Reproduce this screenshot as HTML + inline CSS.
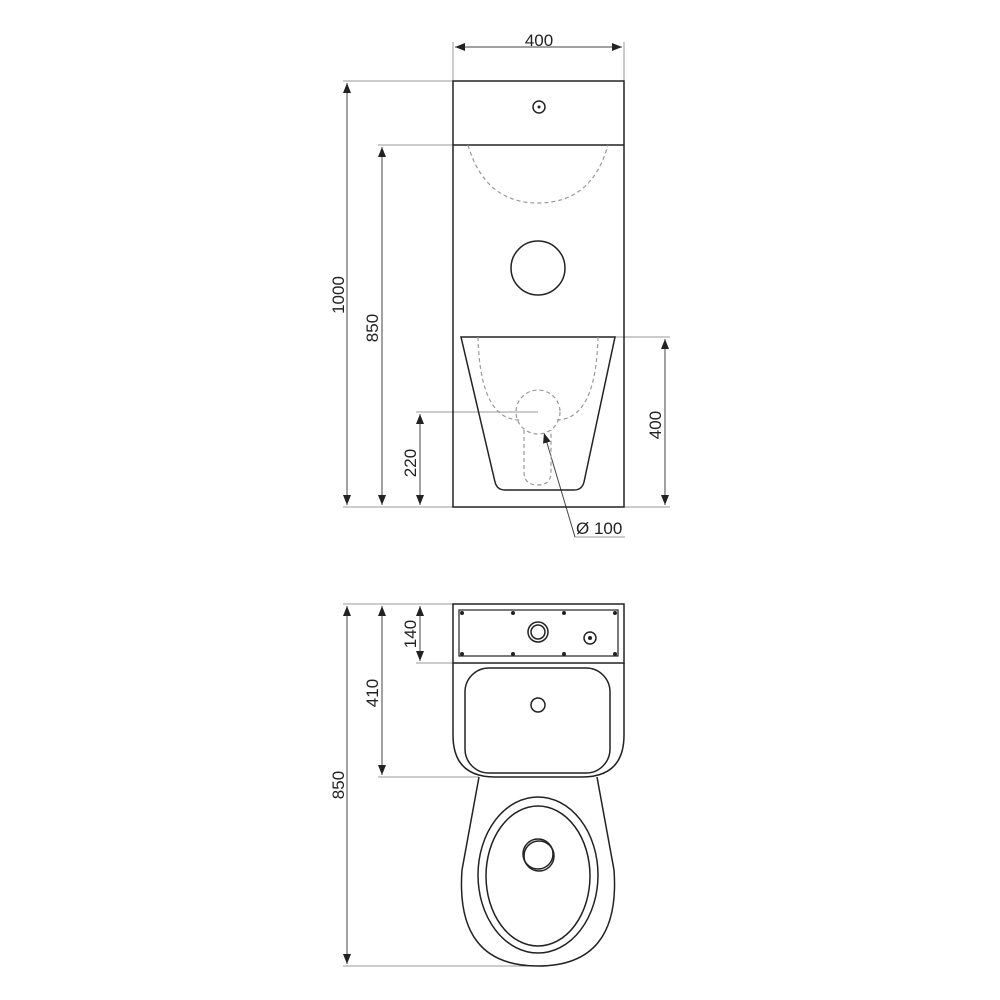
<!DOCTYPE html>
<html><head><style>body{margin:0;background:#fff}svg{display:block}text{font-family:"Liberation Sans",sans-serif;font-size:17px;fill:#222}</style></head><body>
<svg width="1000" height="1000" viewBox="0 0 1000 1000" xmlns="http://www.w3.org/2000/svg">
<defs><marker id="a" markerWidth="10" markerHeight="8" refX="10" refY="4" orient="auto-start-reverse" markerUnits="userSpaceOnUse"><path d="M0,0L10,4L0,8z" fill="#222"/></marker></defs>
<g stroke="#999" stroke-width="1" fill="none">
<line x1="453" y1="42" x2="453" y2="81"/><line x1="624" y1="42" x2="624" y2="81"/>
<line x1="343" y1="81" x2="453" y2="81"/><line x1="378" y1="145" x2="453" y2="145"/>
<line x1="343" y1="507" x2="453" y2="507"/><line x1="624" y1="507" x2="670" y2="507"/>
<line x1="615" y1="337" x2="670" y2="337"/><line x1="416" y1="412" x2="538" y2="412"/>
<line x1="575" y1="537" x2="625" y2="537"/>
<line x1="343" y1="604" x2="453" y2="604"/><line x1="416" y1="663" x2="453" y2="663"/>
<line x1="378" y1="777" x2="479" y2="777"/><line x1="343" y1="966" x2="538" y2="966"/>
</g>
<g stroke="#444" stroke-width="1" fill="none">
<line x1="455" y1="47" x2="622" y2="47" marker-start="url(#a)" marker-end="url(#a)"/>
<line x1="347" y1="83" x2="347" y2="505" marker-start="url(#a)" marker-end="url(#a)"/>
<line x1="382" y1="147" x2="382" y2="505" marker-start="url(#a)" marker-end="url(#a)"/>
<line x1="420" y1="414" x2="420" y2="505" marker-start="url(#a)" marker-end="url(#a)"/>
<line x1="665" y1="339" x2="665" y2="505" marker-start="url(#a)" marker-end="url(#a)"/>
<line x1="575" y1="537" x2="544" y2="433" marker-end="url(#a)"/>
<line x1="347" y1="606" x2="347" y2="964" marker-start="url(#a)" marker-end="url(#a)"/>
<line x1="382" y1="606" x2="382" y2="775" marker-start="url(#a)" marker-end="url(#a)"/>
<line x1="420" y1="606" x2="420" y2="661" marker-start="url(#a)" marker-end="url(#a)"/>
</g>
<text x="539" y="46" text-anchor="middle">400</text>
<text transform="translate(344,295) rotate(-90)" text-anchor="middle">1000</text>
<text transform="translate(378,328) rotate(-90)" text-anchor="middle">850</text>
<text transform="translate(416,463) rotate(-90)" text-anchor="middle">220</text>
<text transform="translate(661,425) rotate(-90)" text-anchor="middle">400</text>
<text x="576" y="534">Ø 100</text>
<text transform="translate(344,785) rotate(-90)" text-anchor="middle">850</text>
<text transform="translate(378,693) rotate(-90)" text-anchor="middle">410</text>
<text transform="translate(416,634) rotate(-90)" text-anchor="middle">140</text>
<g stroke="#222" stroke-width="1.5" fill="none">
<rect x="453" y="81" width="171" height="426"/>
<line x1="453" y1="145" x2="624" y2="145"/>
<circle cx="539" cy="107" r="6"/>
<circle cx="538" cy="268" r="27"/>
<path d="M461,337L615,337L584,482Q582,490 574,490L505,490Q497,490 495,482Z"/>
<rect x="453" y="604" width="171" height="59"/>
<rect x="459" y="610" width="159" height="46" stroke-width="1.2"/>
<circle cx="538" cy="632" r="10"/><circle cx="538" cy="632" r="7"/>
<circle cx="590" cy="638" r="6"/>
<path d="M453,663L453,735Q453,777 495,777L582,777Q624,777 624,735L624,663"/>
<rect x="465" y="668" width="145" height="105" rx="24"/>
<circle cx="538" cy="705" r="7"/>
<path d="M479,777L462,870Q455,966 538,966Q621,966 614,870L597,777"/>
<ellipse cx="538" cy="875" rx="60" ry="78"/>
<ellipse cx="538" cy="876" rx="52" ry="70"/>
<circle cx="538" cy="854" r="15"/><circle cx="539" cy="856" r="15"/>
</g>
<circle cx="539" cy="107" r="1.5" fill="#222"/>
<circle cx="590" cy="638" r="2" fill="#222"/>
<g fill="#222"><circle cx="462" cy="613" r="2"/><circle cx="513" cy="613" r="2"/><circle cx="564" cy="613" r="2"/><circle cx="615" cy="613" r="2"/><circle cx="462" cy="654" r="2"/><circle cx="513" cy="654" r="2"/><circle cx="564" cy="654" r="2"/><circle cx="615" cy="654" r="2"/></g>
<g stroke="#999" stroke-width="1.2" fill="none" stroke-dasharray="4,3">
<path d="M468,145Q485,203 538,203Q592,203 608,145"/>
<path d="M478,337Q480,420 520,420"/><path d="M598,337Q596,420 556,420"/>
<circle cx="538" cy="412" r="22"/>
<path d="M524,430L524,472Q524,485 538,485Q551,485 551,472L551,430"/>
</g>
</svg>
</body></html>
